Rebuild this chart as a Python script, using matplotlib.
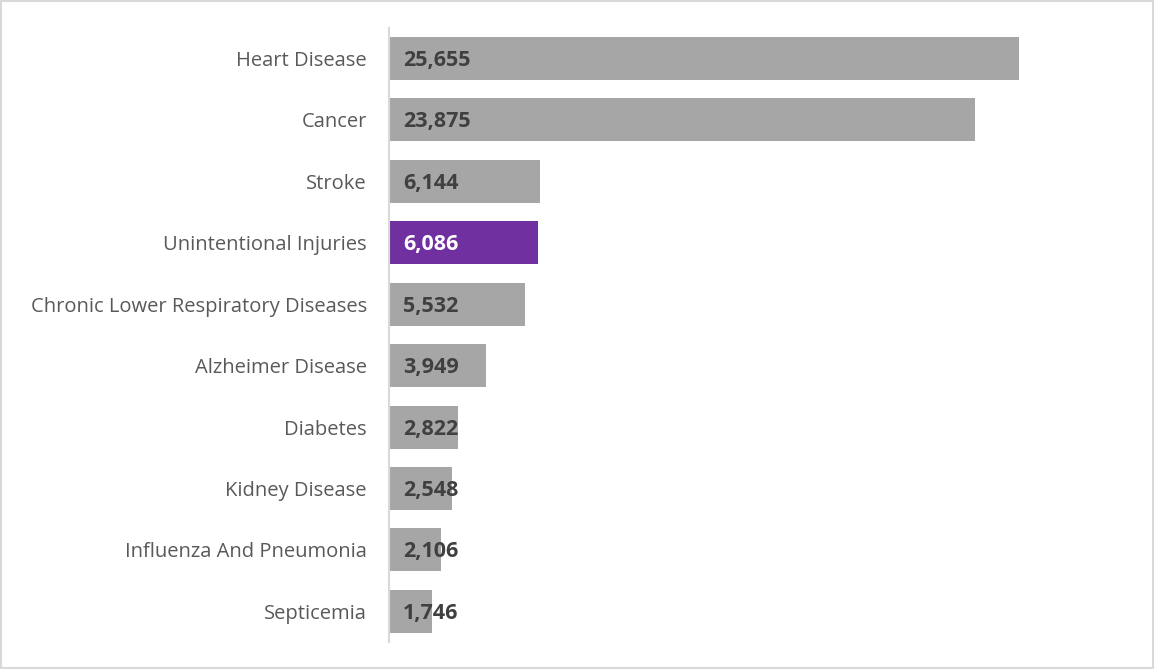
import matplotlib.pyplot as plt
from matplotlib.patches import Rectangle

causes = ['Heart Disease', 'Cancer', 'Stroke', 'Unintentional Injuries',
          'Chronic Lower Respiratory Diseases', 'Alzheimer Disease', 'Diabetes',
          'Kidney Disease', 'Influenza And Pneumonia', 'Septicemia']
deaths = [25655, 23875, 6144, 6086, 5532, 3949, 2822, 2548, 2106, 1746]
highlight = 'Unintentional Injuries'

plt.rcParams['font.family'] = ['Open Sans', 'DejaVu Sans']

fig = plt.figure(figsize=(11.54, 6.69), dpi=100)
ax = fig.add_axes([0.3371, 0.0404, 0.636, 0.918])

colors = ['#7030A0' if c == highlight else '#A6A6A6' for c in causes]
ypos = list(range(len(causes)))
ax.barh(ypos, deaths, height=0.7, color=colors)

for y, v, c in zip(ypos, deaths, causes):
    ax.annotate(f'{v:,}', xy=(0, y), xytext=(14, -2), textcoords='offset pixels',
                va='center', ha='left', fontsize=15.5, fontweight='bold',
                color='white' if c == highlight else '#404040')

ax.set_yticks(ypos)
ax.set_yticklabels(causes, fontsize=14.5, color='#595959')
ax.set_ylim(len(causes) - 0.5, -0.5)
ax.set_xlim(0, 29900)
ax.set_xticks([])
ax.tick_params(axis='y', length=0, pad=16)
for side in ['top', 'right', 'bottom']:
    ax.spines[side].set_visible(False)
ax.spines['left'].set_color('#D9D9D9')
ax.spines['left'].set_linewidth(1.5)

# thin frame around the whole figure
fig.patches.append(Rectangle((0.001, 0.001), 0.998, 0.997, transform=fig.transFigure,
                             fill=False, edgecolor='#D9D9D9', linewidth=1.5))

fig.savefig('out.png', dpi=100)
